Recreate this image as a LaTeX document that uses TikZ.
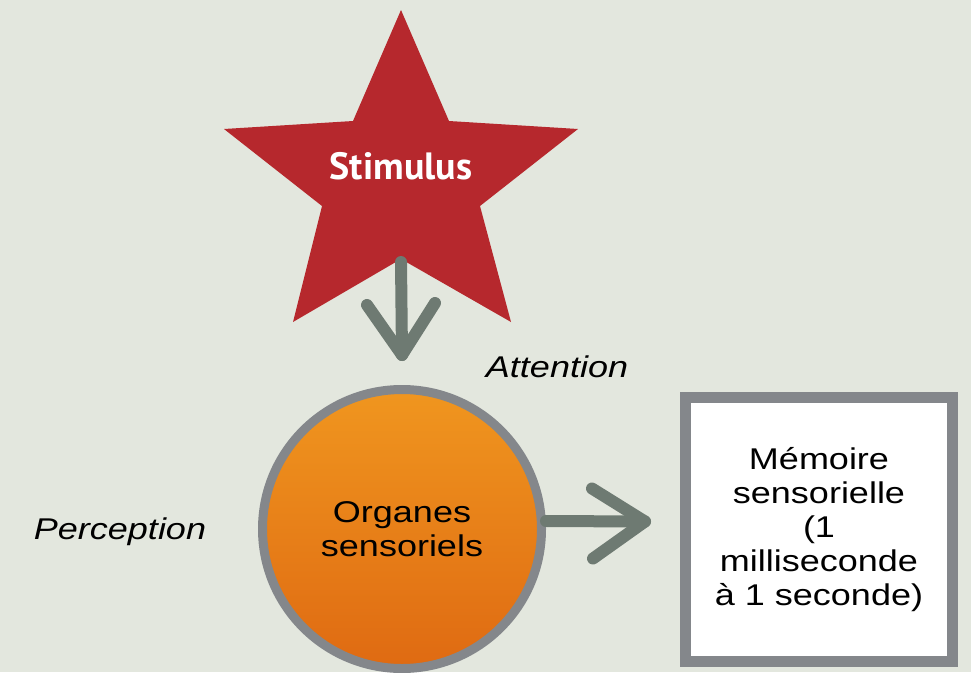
\documentclass[tikz,border=0pt]{standalone}
\usepackage{fontspec}
\setmainfont{Liberation Sans}
\newfontfamily\slidefont[FakeStretch=1.2]{Liberation Sans}
\newfontfamily\starfont{PT Sans}
\usetikzlibrary{positioning}

\definecolor{paper}{HTML}{E3E7DE}
\definecolor{starred}{HTML}{B6282D}
\definecolor{rimgray}{HTML}{84878B}
\definecolor{chalk}{HTML}{6E7A72}
\definecolor{orangetop}{HTML}{F0961F}
\definecolor{orangebot}{HTML}{DF6A12}

\begin{document}
\begin{tikzpicture}[x=1pt, y=-1pt,
	slidetext/.style={font=\slidefont\fontsize{30}{34}\selectfont, align=center, inner sep=0pt},
	chalkarrow/.style={draw=chalk, line width=12pt, line cap=round, line join=round}]
	% background
	\fill[paper] (0,0) rectangle (971,672);
	\useasboundingbox (0,0) rectangle (971,672);
	% Stimulus star
	\fill[starred] (401,10) -- (449,121) -- (578,129) -- (480,206) -- (511,322) -- (401,259)
		-- (293,322) -- (322,206) -- (224,129) -- (353,121) -- cycle;
	\node[font=\starfont\bfseries\fontsize{38}{42}\selectfont, text=white, anchor=base] (stimulus) at (401,179) {Stimulus};
	\coordinate (stimtip) at (401,262);
	% Organes sensoriels
	\node[slidetext, circle, minimum size=279pt, line width=9pt, draw=rimgray,
		top color=orangetop, bottom color=orangebot] (organes) at (402,529) {Organes\\sensoriels};
	% Memoire sensorielle
	\node[slidetext, rectangle, minimum width=267pt, minimum height=264pt, line width=11pt,
		draw=rimgray, fill=white] (memoire) at (819,529.5) {Mémoire\\sensorielle\\(1\\milliseconde\\à 1 seconde)};
	% labels
	\node[slidetext, font=\slidefont\itshape\fontsize{30}{34}\selectfont] (attention) at (557,367) {Attention};
	\node[slidetext, font=\slidefont\itshape\fontsize{30}{34}\selectfont] (perception) at (120,532) {Perception};
	% chalk arrows
	\coordinate (downtip) at ([yshift=30pt]organes.north);
	\draw[chalkarrow] (stimtip) -- (downtip);
	\draw[chalkarrow] ([shift={(-35,-50)}]downtip) -- (downtip) -- ([shift={(33,-52)}]downtip);
	\coordinate (righttip) at ([xshift=-35pt, yshift=8pt]memoire.west);
	\draw[chalkarrow] ([yshift=8pt]organes.east) -- (righttip);
	\draw[chalkarrow] ([shift={(-53,-33)}]righttip) -- (righttip) -- ([shift={(-52,37)}]righttip);
\end{tikzpicture}
\end{document}
